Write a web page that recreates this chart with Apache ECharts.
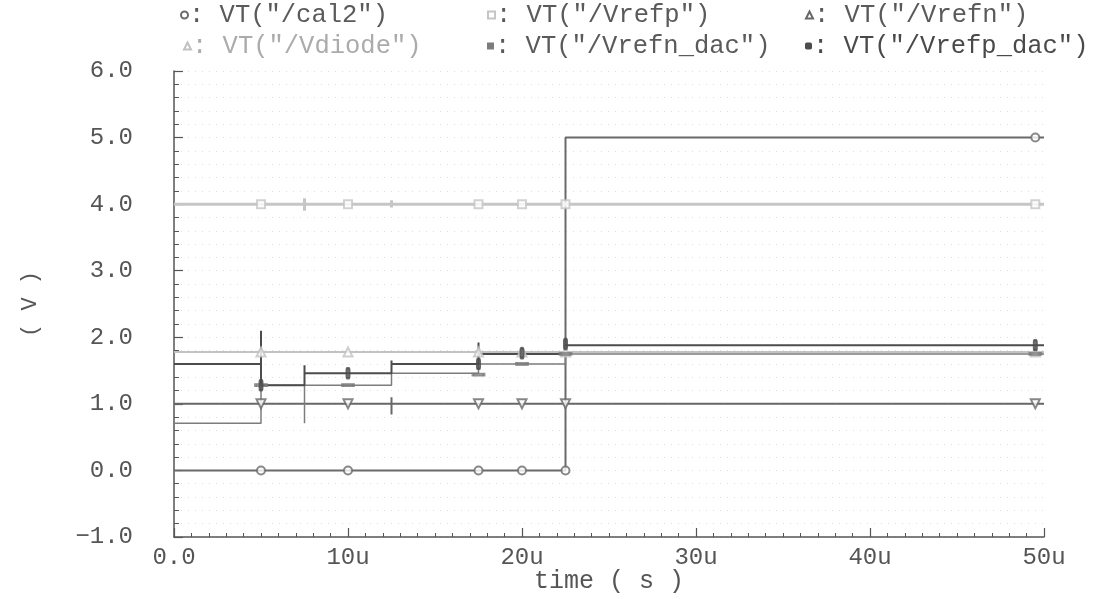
<!DOCTYPE html>
<html>
<head>
<meta charset="utf-8">
<script src="https://cdn.jsdelivr.net/npm/echarts@6/dist/echarts.min.js"></script>
<style>
  html, body { margin: 0; padding: 0; background: #ffffff; }
  #chart { width: 1095px; height: 599px; }
</style>
</head>
<body>
<div id="chart"></div>
<script>
// Transient node voltages; time in microseconds, voltage in volts.
const seriesNames = ['VT("/cal2")', 'VT("/Vrefp")', 'VT("/Vrefn")',
                     'VT("/Vdiode")', 'VT("/Vrefn_dac")', 'VT("/Vrefp_dac")'];

// Waveform vertices (repeated times give the vertical switching edges / glitches)
const cal2 = [[0, 0], [22.5, 0], [22.5, 5], [50, 5]];
const vrefp = [[0, 4], [7.5, 4], [7.5, 4.09], [7.5, 3.9], [7.5, 4], [12.5, 4], [12.5, 4.06], [12.5, 3.95], [12.5, 4], [50, 4]];
const vrefn = [[0, 1], [12.5, 1], [12.5, 1.1], [12.5, 0.84], [12.5, 1], [50, 1]];
const vdiode = [[0, 1.78], [50, 1.78]];
const vrefnDac = [[0, 0.71], [5, 0.71], [5, 1.28], [7.5, 1.28], [7.5, 0.71], [7.5, 1.28], [12.5, 1.28], [12.5, 1.46],
                  [17.5, 1.46], [17.5, 1.43], [17.5, 1.6], [22.5, 1.6], [22.5, 1.75], [50, 1.75]];
const vrefpDac = [[0, 1.6], [5, 1.6], [5, 2.1], [5, 1.28], [7.5, 1.28], [7.5, 1.58], [7.5, 1.46], [12.5, 1.46],
                  [12.5, 1.65], [12.5, 1.6], [17.5, 1.6], [17.5, 1.92], [17.5, 1.75], [22.5, 1.75], [22.5, 1.88], [50, 1.88]];

// Marker symbols placed along each trace
const markerTimes = [5, 10, 17.5, 20, 22.5, 49.5];
const cal2Marks = [0, 0, 0, 0, 0, 5];
const vrefpMarks = [4, 4, 4, 4, 4, 4];
const vrefnMarks = [1, 1, 1, 1, 1, 1];
const vdiodeMarks = [1.78, 1.78, 1.78, 1.78, 1.78, 1.78];
const vrefnDacMarks = [1.28, 1.28, 1.44, 1.6, 1.75, 1.75];
const vrefpDacMarks = [1.28, 1.46, 1.6, 1.76, 1.9, 1.88];

// Axis ticks
const xTicks = { min: 0, max: 50, step: 10 };
const yTicks = { min: -1, max: 6, step: 1 };

const FONT = '"Liberation Mono", "DejaVu Sans Mono", monospace';
const AXIS = '#555555';

const traces = [
  { data: cal2,     marks: cal2Marks,     color: '#6a6a6a', width: 2,   symbol: 'emptyCircle',   size: 8,       rotate: 0,   text: '#5a5a5a', icon: 'emptyCircle' },
  { data: vrefp,    marks: vrefpMarks,    color: '#c6c6c6', width: 3,   symbol: 'emptyRect',     size: 8,       rotate: 0,   text: '#5a5a5a', icon: 'emptyRect' },
  { data: vrefn,    marks: vrefnMarks,    color: '#686868', width: 2,   symbol: 'emptyTriangle', size: 9,       rotate: 180, text: '#5a5a5a', icon: 'emptyTriangle' },
  { data: vdiode,   marks: vdiodeMarks,   color: '#c2c2c2', width: 2,   symbol: 'emptyTriangle', size: 9,       rotate: 0,   text: '#ababab', icon: 'emptyTriangle' },
  { data: vrefnDac, marks: vrefnDacMarks, color: '#7c7c7c', width: 1.5, symbol: 'rect',          size: [11, 3], rotate: 0,   text: '#5a5a5a', icon: 'rect' },
  { data: vrefpDac, marks: vrefpDacMarks, color: '#4c4c4c', width: 2,   symbol: 'roundRect',     size: [4, 10], rotate: 0,   text: '#4a4a4a', icon: 'roundRect' }
];

const series = [];
traces.forEach((t, i) => {
  series.push({
    name: seriesNames[i], type: 'line', data: t.data, showSymbol: false,
    lineStyle: { color: t.color, width: t.width, join: 'bevel' }, itemStyle: { color: t.color },
    animation: false, z: 2
  });
  series.push({
    name: seriesNames[i], type: 'scatter',
    data: markerTimes.map((tm, k) => [tm, t.marks[k]]),
    symbol: t.symbol, symbolSize: t.size, symbolRotate: t.rotate,
    itemStyle: { color: t.color, borderColor: t.color, borderWidth: 1.5 },
    animation: false, z: 3
  });
});

// One legend block per trace, laid out in two rows of three columns
const legendPos = [[180, 2], [487, 2], [805, 2], [183, 33], [487, 33], [805, 33]];
const legends = traces.map((t, i) => ({
  data: [{ name: seriesNames[i], icon: t.icon }],
  left: legendPos[i][0], top: legendPos[i][1],
  padding: 0, itemWidth: 7, itemHeight: 7, itemGap: 0,
  selectedMode: false,
  formatter: ': {name}',
  textStyle: { fontFamily: FONT, fontSize: 25.5, lineHeight: 26, color: t.text, padding: [0, 0, 0, -4] }
}));

const fmtY = v => (v < 0 ? '\u2212' : '') + Math.abs(v).toFixed(1);
const fmtX = v => (v === 0 ? '0.0' : v + 'u');

const option = {
  backgroundColor: '#ffffff',
  animation: false,
  legend: legends,
  grid: { left: 174, right: 51, top: 71, bottom: 62, containLabel: false, outerBoundsMode: 'none' },
  xAxis: {
    type: 'value', min: xTicks.min, max: xTicks.max, interval: xTicks.step,
    name: 'time ( s )', nameLocation: 'middle', nameGap: 32, nameMoveOverlap: false,
    nameTextStyle: { fontFamily: FONT, fontSize: 25, color: AXIS },
    axisLine: { show: true, onZero: false, lineStyle: { color: AXIS, width: 1.5 } },
    axisTick: { show: true, inside: true, length: 9, lineStyle: { color: AXIS, width: 1.2 } },
    minorTick: { show: true, splitNumber: 10, length: 4, lineStyle: { color: AXIS, width: 1 } },
    axisLabel: { formatter: fmtX, fontFamily: FONT, fontSize: 24, color: AXIS, margin: 9 },
    splitLine: { show: false },
    minorSplitLine: { show: false }
  },
  yAxis: {
    type: 'value', min: yTicks.min, max: yTicks.max, interval: yTicks.step,
    name: '( V )', nameLocation: 'middle', nameGap: 133, nameRotate: 90,
    nameTextStyle: { fontFamily: FONT, fontSize: 22, color: AXIS },
    axisLine: { show: true, onZero: false, lineStyle: { color: AXIS, width: 1.5 } },
    axisTick: { show: true, inside: true, length: 9, lineStyle: { color: AXIS, width: 1.2 } },
    minorTick: { show: true, splitNumber: 5, length: 5, lineStyle: { color: AXIS, width: 1 } },
    axisLabel: { formatter: fmtY, fontFamily: FONT, fontSize: 24, color: AXIS, margin: 41 },
    splitLine: { show: true, lineStyle: { color: '#dddddd', type: [1, 6], width: 1 } },
    minorSplitLine: { show: true, lineStyle: { color: '#dddddd', type: [1, 6], width: 1 } }
  },
  series: series
};

const chart = echarts.init(document.getElementById('chart'), null, { renderer: 'canvas' });
chart.setOption(option);
</script>
</body>
</html>
